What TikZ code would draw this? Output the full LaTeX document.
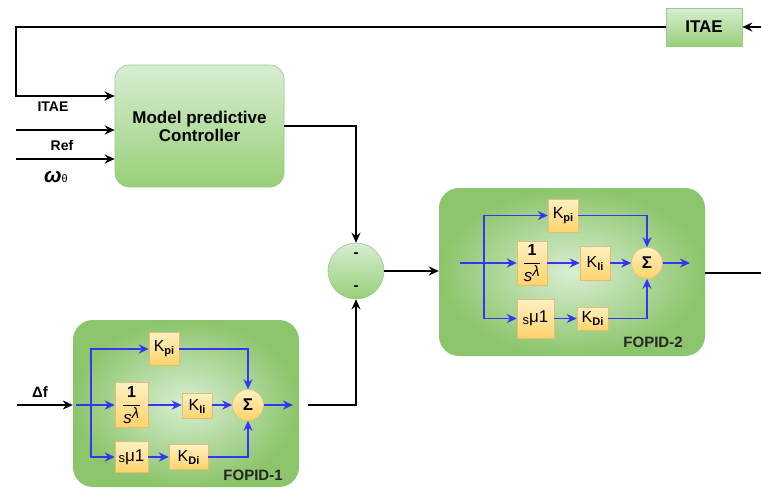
\documentclass[tikz,border=0pt]{standalone}
\usepackage{amsmath}
\usepackage{fontspec}
\setmainfont{Liberation Sans}
\usetikzlibrary{arrows.meta}
\definecolor{gborder}{HTML}{9CC98A}
\definecolor{glight}{HTML}{D8EDD3}
\definecolor{gdark}{HTML}{97D077}
\definecolor{gouter}{HTML}{8CC56B}
\definecolor{ginner}{HTML}{D9EED3}
\definecolor{oborder}{HTML}{E0C070}
\definecolor{olight}{HTML}{FFF0C4}
\definecolor{odark}{HTML}{FFD36A}
\definecolor{bl}{HTML}{3535F5}
\newcommand{\fs}[1]{\fontsize{#1}{#1}\selectfont}
\tikzset{
  mpcbox/.style={rounded corners=14pt, draw=gborder, top color=glight, bottom color=gdark, line width=0.6pt, align=center, font=\fs{17}\bfseries},
  itaebox/.style={draw=gborder, top color=glight, bottom color=gdark, line width=0.6pt, font=\fs{17}\bfseries},
  fopid/.style={rounded corners=20pt, draw=none, inner color=ginner, outer color=gouter},
  blk/.style={draw=oborder, line width=0.5pt, top color=olight, bottom color=odark, inner sep=0pt, font=\fs{16}},
  sigc/.style={circle, draw=oborder, line width=0.5pt, top color=olight, bottom color=odark, inner sep=0pt, minimum size=31pt, font=\fs{17}\bfseries},
  sumc/.style={circle, draw=gborder, line width=0.6pt, top color=glight, bottom color=gdark, inner sep=0pt, minimum size=56pt},
  arr/.style={line width=1.3pt, -{Stealth[length=10pt,width=9pt]}},
  blackline/.style={line width=1.3pt},
  barr/.style={bl, line width=1.5pt, -{Stealth[length=10pt,width=9pt]}},
  lbl/.style={font=\fs{14}\bfseries},
  flbl/.style={font=\fs{15}\bfseries, text=black!85},
}
\newcommand{\Kk}[1]{K\raisebox{-3pt}{\fs{11}\bfseries #1}}
\newcommand{\fracsl}{$\dfrac{\text{\fs{16}\bfseries 1}}{\text{\fs{17}\itshape s}^{\text{\fs{15}\itshape λ}}}$}
\newcommand{\smuone}{{\fs{13}s}\raisebox{1.5pt}{\fs{17}μ1}}
\begin{document}
\begin{tikzpicture}[x=1pt,y=-1pt]
\useasboundingbox (0,0) rectangle (761,488);
\fill[white] (0,0) rectangle (761,488);

% main blocks
\node[mpcbox, minimum width=169pt, minimum height=122pt] (mpc) at (199.5,126) {Model predictive\\[1pt]Controller};
\node[itaebox, minimum width=76pt, minimum height=38pt] (itae) at (704,27) {ITAE};
\node[sumc] (sum) at (356,271) {};
\node[font=\fs{15}\bfseries] (s1) at (356,255) {-};
\node[font=\fs{15}\bfseries] (s2) at (356,288) {-};

\node[fopid, minimum width=266pt, minimum height=168pt] (f2) at (572,272) {};
\node[fopid, minimum width=226pt, minimum height=167pt] (f1) at (186,403.5) {};

% FOPID-2 internals
\node[blk, minimum width=30pt, minimum height=33pt] (kp2) at (563,215.5) {\Kk{pi}};
\node[blk, minimum width=30pt, minimum height=44pt] (fr2) at (532,263) {\fracsl};
\node[blk, minimum width=30pt, minimum height=34pt] (ki2) at (595,263) {\Kk{Ii}};
\node[sigc] (sig2) at (647,263) {Σ};
\node[blk, minimum width=37pt, minimum height=39pt] (sm2) at (535.5,318.5) {\smuone};
\node[blk, minimum width=31pt, minimum height=23pt] (kd2) at (592.5,318.5) {\Kk{Di}};
\node[flbl] (l2) at (653,342) {FOPID-2};
\coordinate (in2) at (460,263);
\coordinate (br2) at (484,263);
\coordinate (o2) at (690,263);

% FOPID-1 internals
\node[blk, minimum width=30pt, minimum height=33pt] (kp1) at (164,349) {\Kk{pi}};
\node[blk, minimum width=33pt, minimum height=45pt] (fr1) at (131.5,405) {\fracsl};
\node[blk, minimum width=30pt, minimum height=25pt] (ki1) at (197,406) {\Kk{Ii}};
\node[sigc] (sig1) at (248,405) {Σ};
\node[blk, minimum width=33pt, minimum height=31pt] (sm1) at (131.5,457) {\smuone};
\node[blk, minimum width=39pt, minimum height=25pt] (kd1) at (188.5,457) {\Kk{Di}};
\node[flbl] (l1) at (253,475) {FOPID-1};
\coordinate (in1) at (76,405);
\coordinate (br1) at (91,405);
\coordinate (o1) at (293,405);

% labels
\node[lbl] (tITAE) at (53,107) {ITAE};
\node[lbl] (tRef) at (62,145) {Ref};
\node (tw) at (56,177) {{\fs{21}\bfseries\itshape ω}\raisebox{0pt}{\fs{11}θ}};
\node[font=\fs{15}\bfseries] (tdf) at (40,392) {Δf};

% coordinates for free ends
\coordinate (itR) at (761,27);
\coordinate (c1) at (16,27);
\coordinate (c2) at (16,96);
\coordinate (inR) at (16,130);
\coordinate (inW) at (16,159);
\coordinate (df) at (17,405);
\coordinate (f1o) at (308,405);
\coordinate (f2o) at (761,273);

% black connectors
\draw[arr] (itR) -- (itae.east);
\draw[arr] (itae.west) -- (c1) -- (c2) -- (c2 -| mpc.west);
\draw[arr] (inR) -- (inR -| mpc.west);
\draw[arr] (inW) -- (inW -| mpc.west);
\draw[arr] (mpc.east) -| (sum.north);
\draw[arr] (f1o) -| (sum.south);
\draw[arr] (sum.east) -- (sum.east -| f2.west);
\draw[arr] (df) -- (df -| f1.west);
\draw[blackline] (f2o -| f2.east) -- (f2o);

% FOPID-2 blue connectors
\draw[barr] (in2) -- (fr2.west);
\draw[barr] (br2) |- (kp2.west);
\draw[barr] (br2) |- (sm2.west);
\draw[barr] (fr2.east) -- (ki2.west);
\draw[barr] (ki2.east) -- (sig2.west);
\draw[barr] (kp2.east) -| (sig2.north);
\draw[barr] (sm2.east) -- (kd2.west);
\draw[barr] (kd2.east) -| (sig2.south);
\draw[barr] (sig2.east) -- (o2);

% FOPID-1 blue connectors
\draw[barr] (in1) -- (fr1.west);
\draw[barr] (br1) |- (kp1.west);
\draw[barr] (br1) |- (sm1.west);
\draw[barr] (fr1.east) -- (ki1.west |- fr1.east);
\draw[barr] (ki1.east |- sig1.west) -- (sig1.west);
\draw[barr] (kp1.east) -| (sig1.north);
\draw[barr] (sm1.east) -- (kd1.west);
\draw[barr] (kd1.east) -| (sig1.south);
\draw[barr] (sig1.east) -- (o1);
\end{tikzpicture}
\end{document}
